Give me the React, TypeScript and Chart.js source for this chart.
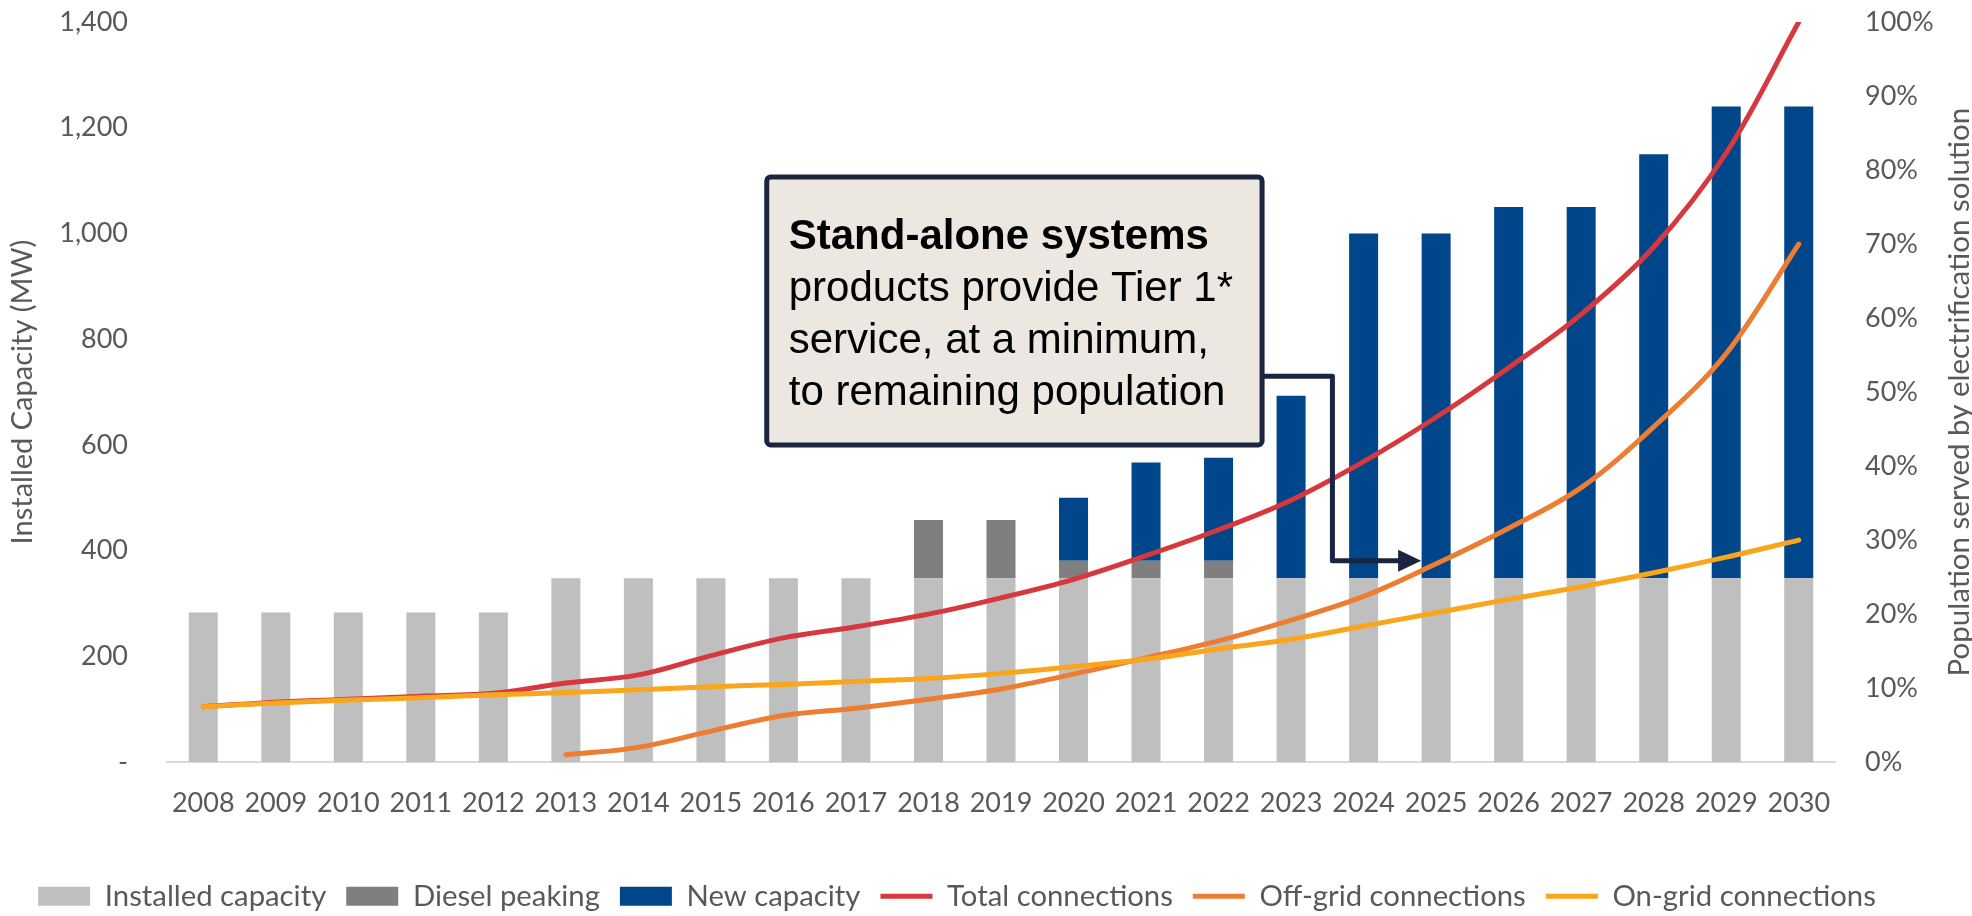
import React, { useEffect, useRef } from "react";
import { Chart, registerables } from "chart.js";

Chart.register(...registerables);

const years = [
  "2008", "2009", "2010", "2011", "2012", "2013", "2014", "2015", "2016", "2017", "2018", "2019",
  "2020", "2021", "2022", "2023", "2024", "2025", "2026", "2027", "2028", "2029", "2030",
];

// MW (left axis)
const installedCapacity = [283, 283, 283, 283, 283, 348, 348, 348, 348, 348, 348, 348, 348, 348, 348, 348, 348, 348, 348, 348, 348, 348, 348];
const dieselPeaking = [0, 0, 0, 0, 0, 0, 0, 0, 0, 0, 110, 110, 33, 33, 33, 0, 0, 0, 0, 0, 0, 0, 0];
const newCapacity = [0, 0, 0, 0, 0, 0, 0, 0, 0, 0, 0, 0, 119, 186, 195, 345, 652, 652, 702, 702, 802, 892, 892];

// % of population (right axis)
const totalConnections = [7.5, 8.1, 8.5, 8.9, 9.3, 10.7, 11.8, 14.4, 16.8, 18.3, 20.0, 22.2, 24.7, 27.9, 31.4, 35.4, 40.6, 46.6, 53.3, 60.5, 69.6, 82.3, 100];
const offGridConnections = [null, null, null, null, null, 1.0, 2.0, 4.2, 6.3, 7.3, 8.5, 9.9, 11.9, 14.1, 16.4, 19.2, 22.4, 26.8, 31.6, 37.1, 45.3, 55.2, 70];
const onGridConnections = [7.5, 8.0, 8.4, 8.7, 9.1, 9.4, 9.8, 10.2, 10.5, 10.9, 11.3, 12.0, 12.9, 13.9, 15.3, 16.6, 18.4, 20.2, 22.0, 23.7, 25.6, 27.7, 30];

const leftTicks = { min: 0, max: 1400, step: 200 };
const rightTicks = { min: 0, max: 100, step: 10 };

const TEXT = "#595959";
const FONT = "Lato";

const calloutLines = [
  "Stand-alone systems",
  "products provide Tier 1*",
  "service, at a minimum,",
  "to remaining population",
];

const extrasPlugin = {
  id: "extras",
  afterLayout(chart: any) {
    // centre the legend row where the reference has it
    const lg = chart.legend;
    if (lg) {
      lg.right = lg.right - 58;
      lg.width = lg.right - lg.left;
    }
  },
  afterDraw(chart: any) {
    const { ctx, scales, chartArea } = chart;
    const x = scales.x;
    const y = scales.y;
    ctx.save();

    // right axis title, reading bottom-to-top
    ctx.save();
    ctx.translate(1959, (chartArea.top + chartArea.bottom) / 2);
    ctx.rotate(-Math.PI / 2);
    ctx.fillStyle = TEXT;
    ctx.font = `29.5px ${FONT}`;
    ctx.textAlign = "center";
    ctx.textBaseline = "middle";
    ctx.fillText("Population served by electrification solution", 0, 0);
    ctx.restore();

    // callout
    const bl = x.getPixelForValue(7.77);
    const br = x.getPixelForValue(14.6);
    const bt = y.getPixelForValue(1107);
    const bb = y.getPixelForValue(600);
    const navy = "#1B2541";

    const cy1 = y.getPixelForValue(730);
    const cx = x.getPixelForValue(15.57);
    const cy2 = y.getPixelForValue(381);
    const tip = x.getPixelForValue(17) - 15;
    ctx.strokeStyle = navy;
    ctx.lineWidth = 5;
    ctx.lineJoin = "round";
    ctx.beginPath();
    ctx.moveTo(br, cy1);
    ctx.lineTo(cx, cy1);
    ctx.lineTo(cx, cy2);
    ctx.lineTo(tip - 20, cy2);
    ctx.stroke();
    ctx.fillStyle = navy;
    ctx.beginPath();
    ctx.moveTo(tip, cy2);
    ctx.lineTo(tip - 23, cy2 - 11);
    ctx.lineTo(tip - 23, cy2 + 11);
    ctx.closePath();
    ctx.fill();

    ctx.fillStyle = "#ECE8E1";
    ctx.strokeStyle = navy;
    ctx.lineWidth = 5;
    ctx.beginPath();
    (ctx as any).roundRect(bl, bt, br - bl, bb - bt, 4);
    ctx.fill();
    ctx.stroke();

    ctx.fillStyle = "#000000";
    ctx.textAlign = "left";
    ctx.textBaseline = "middle";
    calloutLines.forEach((line, i) => {
      ctx.font = i === 0 ? `bold 42px "Liberation Sans"` : `42px "Liberation Sans"`;
      ctx.fillText(line, bl + 22, bt + 61 + i * 51.7);
    });
    ctx.restore();
  },
};

export default function App() {
  const canvasRef = useRef<HTMLCanvasElement | null>(null);

  useEffect(() => {
    document.body.style.margin = "0";
    const canvas = canvasRef.current;
    if (!canvas) return;

    const noPad = (s: any) => {
      s.paddingTop = 0;
      s.paddingBottom = 0;
    };

    const chart = new Chart(canvas, {
      type: "bar",
      data: {
        labels: years,
        datasets: [
          { type: "bar", label: "Installed capacity", data: installedCapacity, backgroundColor: "#BFBFBF", borderWidth: 0, yAxisID: "y", stack: "cap", barPercentage: 0.4, categoryPercentage: 1, order: 10, pointStyle: "rect" } as any,
          { type: "bar", label: "Diesel peaking", data: dieselPeaking, backgroundColor: "#7F7F7F", borderWidth: 0, yAxisID: "y", stack: "cap", barPercentage: 0.4, categoryPercentage: 1, order: 10, pointStyle: "rect" },
          { type: "bar", label: "New capacity", data: newCapacity, backgroundColor: "#00468A", borderWidth: 0, yAxisID: "y", stack: "cap", barPercentage: 0.4, categoryPercentage: 1, order: 10, pointStyle: "rect" },
          { type: "line", label: "Total connections", data: totalConnections, borderColor: "#D7383E", backgroundColor: "#D7383E", borderWidth: 5, borderCapStyle: "round", pointRadius: 0, pointStyle: "line", tension: 0.35, yAxisID: "y1", order: 3 },
          { type: "line", label: "Off-grid connections", data: offGridConnections, borderColor: "#ED7D31", backgroundColor: "#ED7D31", borderWidth: 5, borderCapStyle: "round", pointRadius: 0, pointStyle: "line", tension: 0.35, yAxisID: "y1", order: 2 },
          { type: "line", label: "On-grid connections", data: onGridConnections, borderColor: "#F9A61C", backgroundColor: "#F9A61C", borderWidth: 5, borderCapStyle: "round", pointRadius: 0, pointStyle: "line", tension: 0.35, yAxisID: "y1", order: 1 },
        ],
      },
      options: {
        responsive: false,
        animation: false,
        devicePixelRatio: 1,
        layout: { padding: { top: 22, left: 0, right: 0, bottom: -5 } },
        plugins: {
          tooltip: { enabled: false },
          legend: {
            position: "bottom",
            labels: {
              font: { family: FONT, size: 29.3 },
              color: TEXT,
              usePointStyle: true,
              pointStyleWidth: 52,
              boxHeight: 19,
              padding: 20,
              sort: (a: any, b: any) => a.datasetIndex - b.datasetIndex,
            },
          },
        },
        scales: {
          x: {
            stacked: true,
            grid: { display: false, drawTicks: false },
            border: { display: true, color: "#D9D9D9", width: 2 },
            ticks: { font: { family: FONT, size: 27 }, color: TEXT, padding: 25, maxRotation: 0, autoSkip: false },
            afterFit: (s: any) => { s.height = 99.5; },
          },
          y: {
            stacked: true,
            position: "left",
            min: leftTicks.min,
            max: leftTicks.max,
            grid: { display: false, drawTicks: false },
            border: { display: false },
            ticks: {
              stepSize: leftTicks.step,
              font: { family: FONT, size: 27 },
              color: TEXT,
              padding: 39,
              callback: (v: any) => (Number(v) === 0 ? "-" : Number(v).toLocaleString("en-US")),
            },
            title: {
              display: true,
              text: "Installed Capacity (MW)",
              font: { family: FONT, size: 29, lineHeight: 1 },
              color: TEXT,
              padding: { top: 8.5, bottom: 0 },
            },
            afterFit: (s: any) => { s.width = 167; noPad(s); },
          },
          y1: {
            position: "right",
            min: rightTicks.min,
            max: rightTicks.max,
            grid: { display: false, drawTicks: false },
            border: { display: false },
            ticks: { stepSize: rightTicks.step, font: { family: FONT, size: 27 }, color: TEXT, padding: 30, callback: (v: any) => `${v}%` },
            afterFit: (s: any) => { s.width = 137; noPad(s); },
          },
        },
      },
      plugins: [extrasPlugin],
    });

    return () => { chart.destroy(); };
  }, []);

  return (
    <div style={{ width: 1972, height: 916 }}>
      <canvas ref={canvasRef} width={1972} height={916} />
    </div>
  );
}
